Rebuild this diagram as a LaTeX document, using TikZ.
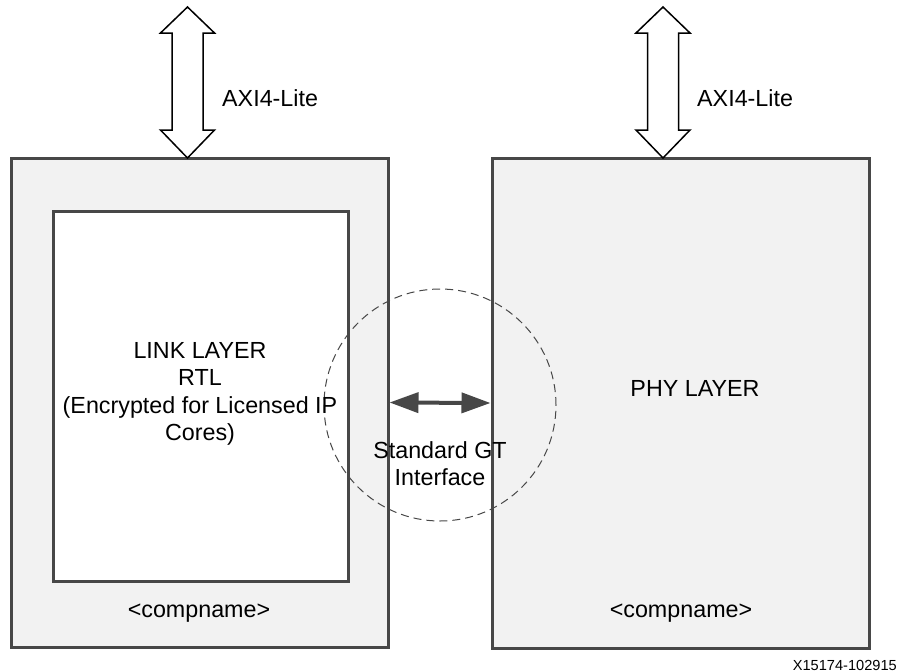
\documentclass[tikz,border=0pt]{standalone}
\usepackage{fontspec}
\setmainfont{Liberation Sans}
\usetikzlibrary{arrows.meta}
\definecolor{boxgray}{HTML}{F2F2F2}
\definecolor{edgegray}{HTML}{474747}
\begin{document}
\begin{tikzpicture}[x=1pt,y=-1pt,
  txt/.style={font=\fontsize{23.3}{27.3}\selectfont, align=center, inner sep=0pt, text=black},
  outerbox/.style={draw=edgegray, fill=boxgray, line width=3pt, inner sep=0pt},
  innerbox/.style={draw=edgegray, fill=white, line width=3pt, inner sep=0pt},
  fatarrow/.style={draw=black, fill=white, line width=1.5pt, line join=miter},
  gtarrow/.style={{Triangle[length=29pt,width=20pt]}-{Triangle[length=29pt,width=20pt]}, line width=4pt, draw=edgegray, fill=edgegray},
  zone/.style={circle, draw=edgegray, line width=1pt, dash pattern=on 8pt off 5pt, inner sep=0pt}
]
\useasboundingbox (0,0) rectangle (898,672);

% boxes
\node[outerbox, minimum width=377pt, minimum height=489pt] (link) at (199.5,402.5) {};
\node[innerbox, minimum width=295pt, minimum height=370pt] (rtl) at (200.5,396) {};
\node[outerbox, minimum width=377pt, minimum height=490pt] (phy) at (680.5,403) {};

% AXI4-Lite fat arrows
\draw[fatarrow] (187.5,7) -- ++(27,26) -- ++(-11.5,0) -- ++(0,97) -- ++(11.5,0) -- ++(-27,28) -- ++(-27,-28) -- ++(11.5,0) -- ++(0,-97) -- ++(-11.5,0) -- cycle;
\draw[fatarrow] (663,7) -- ++(27,26) -- ++(-11.5,0) -- ++(0,97) -- ++(11.5,0) -- ++(-27,28) -- ++(-27,-28) -- ++(11.5,0) -- ++(0,-97) -- ++(-11.5,0) -- cycle;
\node[txt, anchor=west] (axl) at (222,98) {AXI4-Lite};
\node[txt, anchor=west] (axr) at (697,98) {AXI4-Lite};

% Standard GT interface
\node[zone, minimum size=232pt] (gt) at (440,405) {};
\draw[gtarrow] (link.east) -- (phy.west);

% texts
\node[txt] (lt) at (200,394) {LINK LAYER\\RTL\\(Encrypted for Licensed IP\\Cores)};
\node[txt] (gtt) at (440,464) {Standard GT\\Interface};
\node[txt] (pt) at (695,388) {PHY LAYER};
\node[txt] (cl) at (199,613) {<compname>};
\node[txt] (cr) at (681,613) {<compname>};
\node[txt, anchor=east, font=\fontsize{14.6}{17}\selectfont] (fig) at (897,665) {X15174-102915};
\end{tikzpicture}
\end{document}
